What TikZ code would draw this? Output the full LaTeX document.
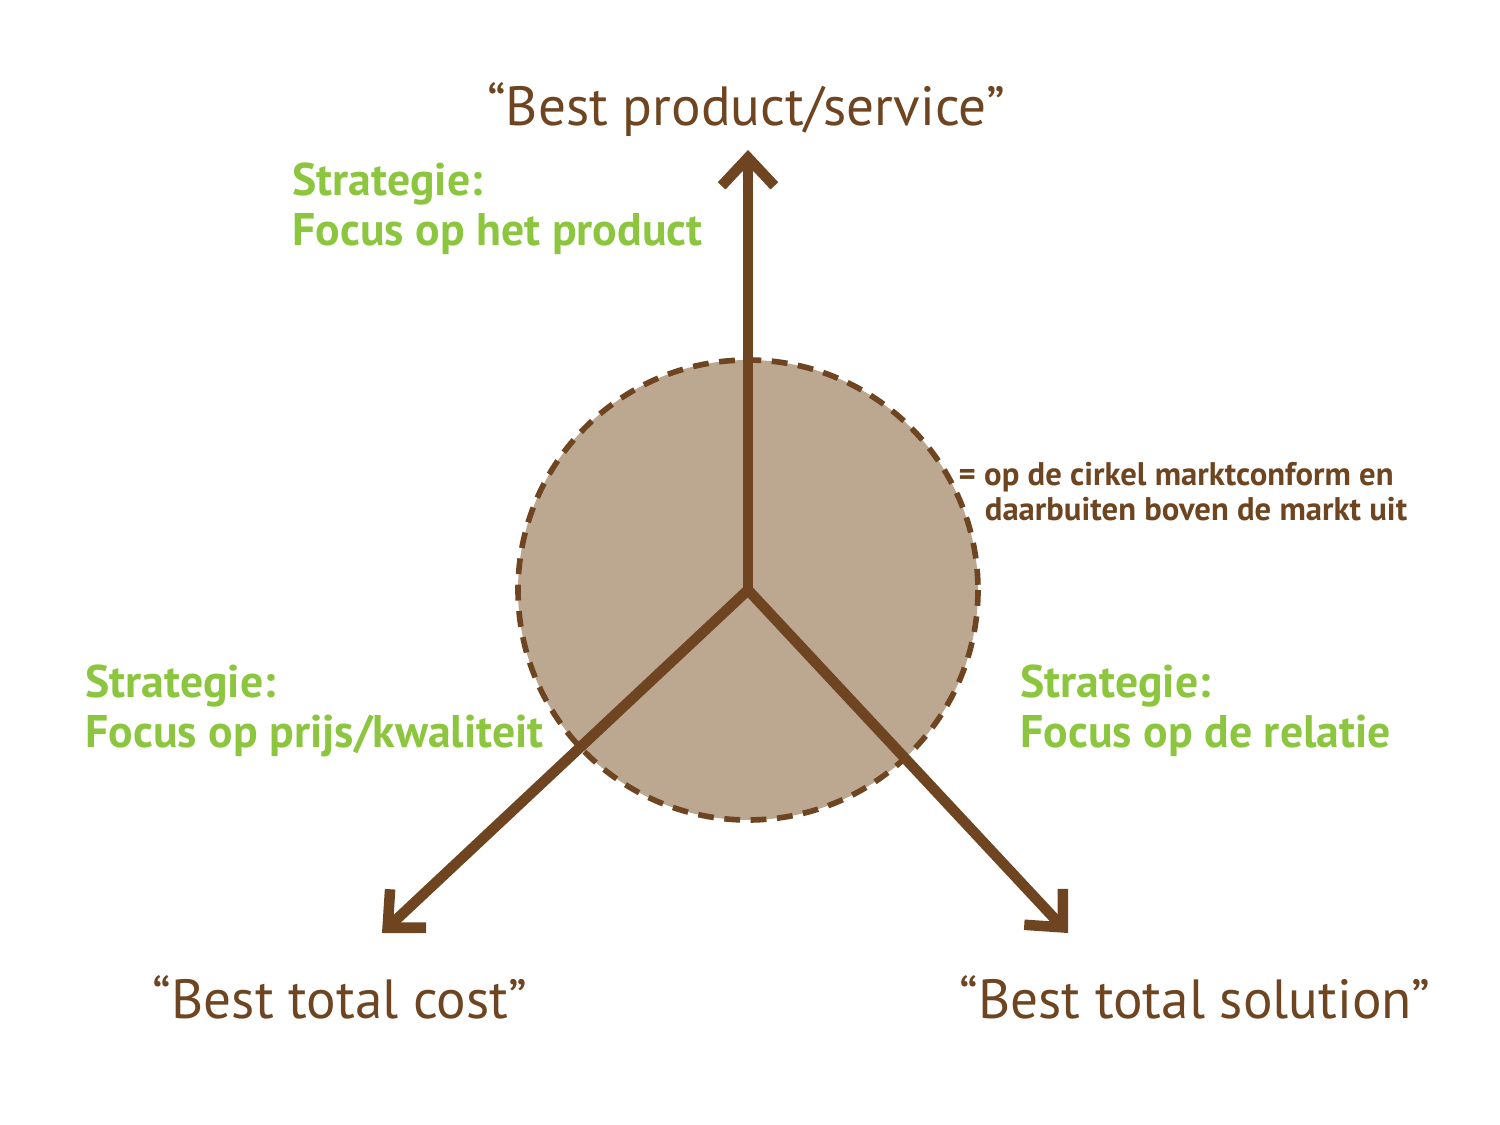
\documentclass[tikz,border=0pt]{standalone}
\usepackage{fontspec}
\setmainfont{PT Sans}
\usetikzlibrary{arrows.meta}
\definecolor{bruin}{HTML}{6E4520}
\definecolor{zand}{HTML}{BCA790}
\definecolor{groen}{HTML}{8CC63F}
\tikzset{
	pijl/.style={draw=bruin, line width=3pt, -{Straight Barb[length=8pt,width=15pt,line width=3pt]}},
	titel/.style={text=bruin, font=\fontsize{15.7}{19}\selectfont, inner sep=0pt},
	strat/.style={text=groen, font=\bfseries\fontsize{13}{14.3}\selectfont, align=left, inner sep=0pt, anchor=north west},
}
\begin{document}
\begin{tikzpicture}[x=0.01cm,y=-0.01cm]
				\useasboundingbox (0,0) rectangle (1500,1125);
				\coordinate (M) at (748,590);
				\draw[draw=bruin, fill=zand, line width=1.6pt, dash pattern=on 4.5pt off 3pt] (M) circle[radius=230];
				\coordinate (N) at (748,150);
				\coordinate (ZW) at (382,933);
				\coordinate (ZO) at (1068,933);
				\draw[pijl] (M) -- (N);
				\draw[pijl] (M) -- (ZW);
				\draw[pijl] (M) -- (ZO);
				\node[titel] (tn) at (746,110) {“Best product/service”};
				\node[titel] (tw) at (340,997) {“Best total cost”};
				\node[titel] (to) at (1195,997) {“Best total solution”};
				\node[strat] (sn) at (292,162) {Strategie:\\Focus op het product};
				\node[strat] (sw) at (85,664) {Strategie:\\Focus op prijs/kwaliteit};
				\node[strat] (so) at (1020,664) {Strategie:\\Focus op de relatie};
				\node[text=bruin, font=\bfseries\fontsize{9.3}{9.8}\selectfont, align=left, inner sep=0pt, anchor=north west] (uitleg) at (958,462) {= op de cirkel marktconform en\\\hspace*{1.6ex}daarbuiten boven de markt uit};
			\end{tikzpicture}
\end{document}
